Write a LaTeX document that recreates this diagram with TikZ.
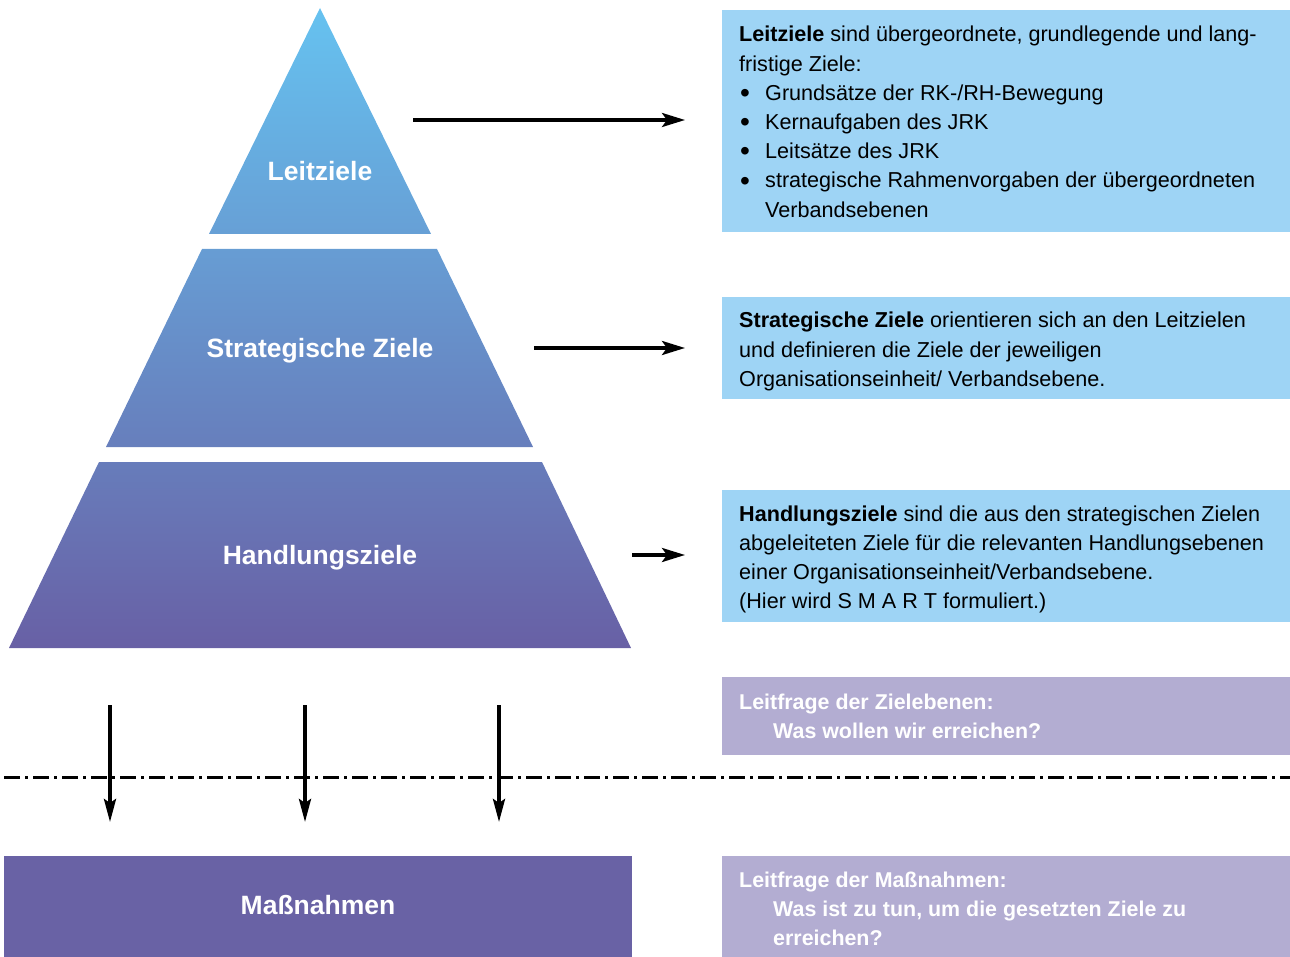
\documentclass[tikz,border=0pt]{standalone}
\usepackage{fontspec}
\setmainfont{Liberation Sans}
\usetikzlibrary{arrows.meta}
\definecolor{ptop}{RGB}{102,194,240}
\definecolor{pbot}{RGB}{104,96,165}
\definecolor{boxblue}{RGB}{158,212,245}
\definecolor{boxlila}{RGB}{179,173,210}
\definecolor{massn}{RGB}{105,98,165}
\colorlet{cA}{ptop}
\colorlet{cB}{pbot!35!ptop}
\colorlet{cC}{pbot!38!ptop}
\colorlet{cD}{pbot!69!ptop}
\colorlet{cE}{pbot!71!ptop}
\colorlet{cF}{pbot}
\newcommand{\blt}{\makebox[26pt][l]{\hspace{1pt}\raisebox{-2.2pt}{\scalebox{1.3}{\textbullet}}}}
\tikzset{
  pyrlabel/.style={text=white, font=\fontsize{26.5}{30}\selectfont\bfseries, anchor=base, inner sep=0pt},
  bodytext/.style={font=\fontsize{21.6}{29.2}\selectfont, anchor=base west, inner sep=0pt, text=black},
  lilatext/.style={font=\fontsize{21.4}{29.2}\selectfont\bfseries, anchor=base west, inner sep=0pt, text=white},
  infobox/.style={fill=boxblue, draw=none, anchor=north west, inner sep=0pt, minimum width=568pt},
  lilabox/.style={fill=boxlila, draw=none, anchor=north west, inner sep=0pt, minimum width=568pt},
  harrow/.style={line width=3.6pt, -{Stealth[length=23pt,width=14pt,inset=5pt]}},
  varrow/.style={line width=3.6pt, -{Stealth[length=23pt,width=12pt,inset=4pt]}},
  dashdot line/.style={line width=3pt, dash pattern=on 16pt off 5pt on 3pt off 5pt},
}
\begin{document}
\begin{tikzpicture}[x=1pt,y=-1pt]
\useasboundingbox (0,0) rectangle (1290,957);
% pyramid pieces
\shade[top color=cA, bottom color=cB] (320,8) -- (431,234) -- (209,234) -- cycle;
\shade[top color=cC, bottom color=cD] (202,249) -- (437,249) -- (533,447) -- (106,447) -- cycle;
\shade[top color=cE, bottom color=cF] (99,462) -- (542,462) -- (631,648) -- (9,648) -- cycle;
\node[pyrlabel] (leit) at (320,180.5) {Leitziele};
\node[pyrlabel] (strat) at (320,357.5) {Strategische Ziele};
\node[pyrlabel] (hand) at (320,564.5) {Handlungsziele};
% Massnahmen box
\node[fill=massn, anchor=north west, inner sep=0pt, minimum width=628pt, minimum height=101pt] (mbox) at (4,856) {};
\node[pyrlabel] (mass) at (318,914.5) {Maßnahmen};
% right boxes
\node[infobox, minimum height=222pt] (b1) at (722,10) {};
\node[infobox, minimum height=102pt] (b2) at (722,297) {};
\node[infobox, minimum height=132pt] (b3) at (722,490) {};
\node[lilabox, minimum height=78pt] (b4) at (722,677) {};
\node[lilabox, minimum height=101pt] (b5) at (722,856) {};
\node[bodytext] (t1) at (739,42) {\parbox[t]{548pt}{\raggedright
\textbf{Leitziele} sind übergeordnete, grundlegende und lang-\\
fristige Ziele:\\
\blt Grundsätze der RK-/RH-Bewegung\\
\blt Kernaufgaben des JRK\\
\blt Leitsätze des JRK\\
\blt strategische Rahmenvorgaben der übergeordneten\\
\hspace*{26pt}Verbandsebenen}};
\node[bodytext] (t2) at (739,328) {\parbox[t]{548pt}{\raggedright
\textbf{Strategische Ziele} orientieren sich an den Leitzielen\\
und definieren die Ziele der jeweiligen\\
Organisationseinheit/ Verbandsebene.}};
\node[bodytext] (t3) at (739,521) {\parbox[t]{548pt}{\raggedright
\textbf{Handlungsziele} sind die aus den strategischen Zielen\\
abgeleiteten Ziele für die relevanten Handlungsebenen\\
einer Organisationseinheit/Verbandsebene.\\
(Hier wird S M A R T formuliert.)}};
\node[lilatext] (t4) at (739,709) {\parbox[t]{548pt}{\raggedright
Leitfrage der Zielebenen:\\
\hspace*{34pt}Was wollen wir erreichen?}};
\node[lilatext] (t5) at (739,887) {\parbox[t]{548pt}{\raggedright
Leitfrage der Maßnahmen:\\
\hspace*{34pt}Was ist zu tun, um die gesetzten Ziele zu\\
\hspace*{34pt}erreichen?}};
% horizontal arrows
\coordinate (a1s) at (413,120); \coordinate (a1e) at (685,120);
\coordinate (a2s) at (534,348); \coordinate (a2e) at (685,348);
\coordinate (a3s) at (632,555); \coordinate (a3e) at (685,555);
\draw[harrow] (a1s) -- (a1e);
\draw[harrow] (a2s) -- (a2e);
\draw[harrow] (a3s) -- (a3e);
% dash-dot separator
\coordinate (dl) at (4,777); \coordinate (dr) at (1290,777);
\draw[dashdot line] (dl) -- (dr);
% down arrows
\coordinate (d1s) at (110,705); \coordinate (d1e) at (110,822);
\coordinate (d2s) at (305,705); \coordinate (d2e) at (305,822);
\coordinate (d3s) at (499,705); \coordinate (d3e) at (499,822);
\draw[varrow] (d1s) -- (d1e);
\draw[varrow] (d2s) -- (d2e);
\draw[varrow] (d3s) -- (d3e);
\end{tikzpicture}
\end{document}
